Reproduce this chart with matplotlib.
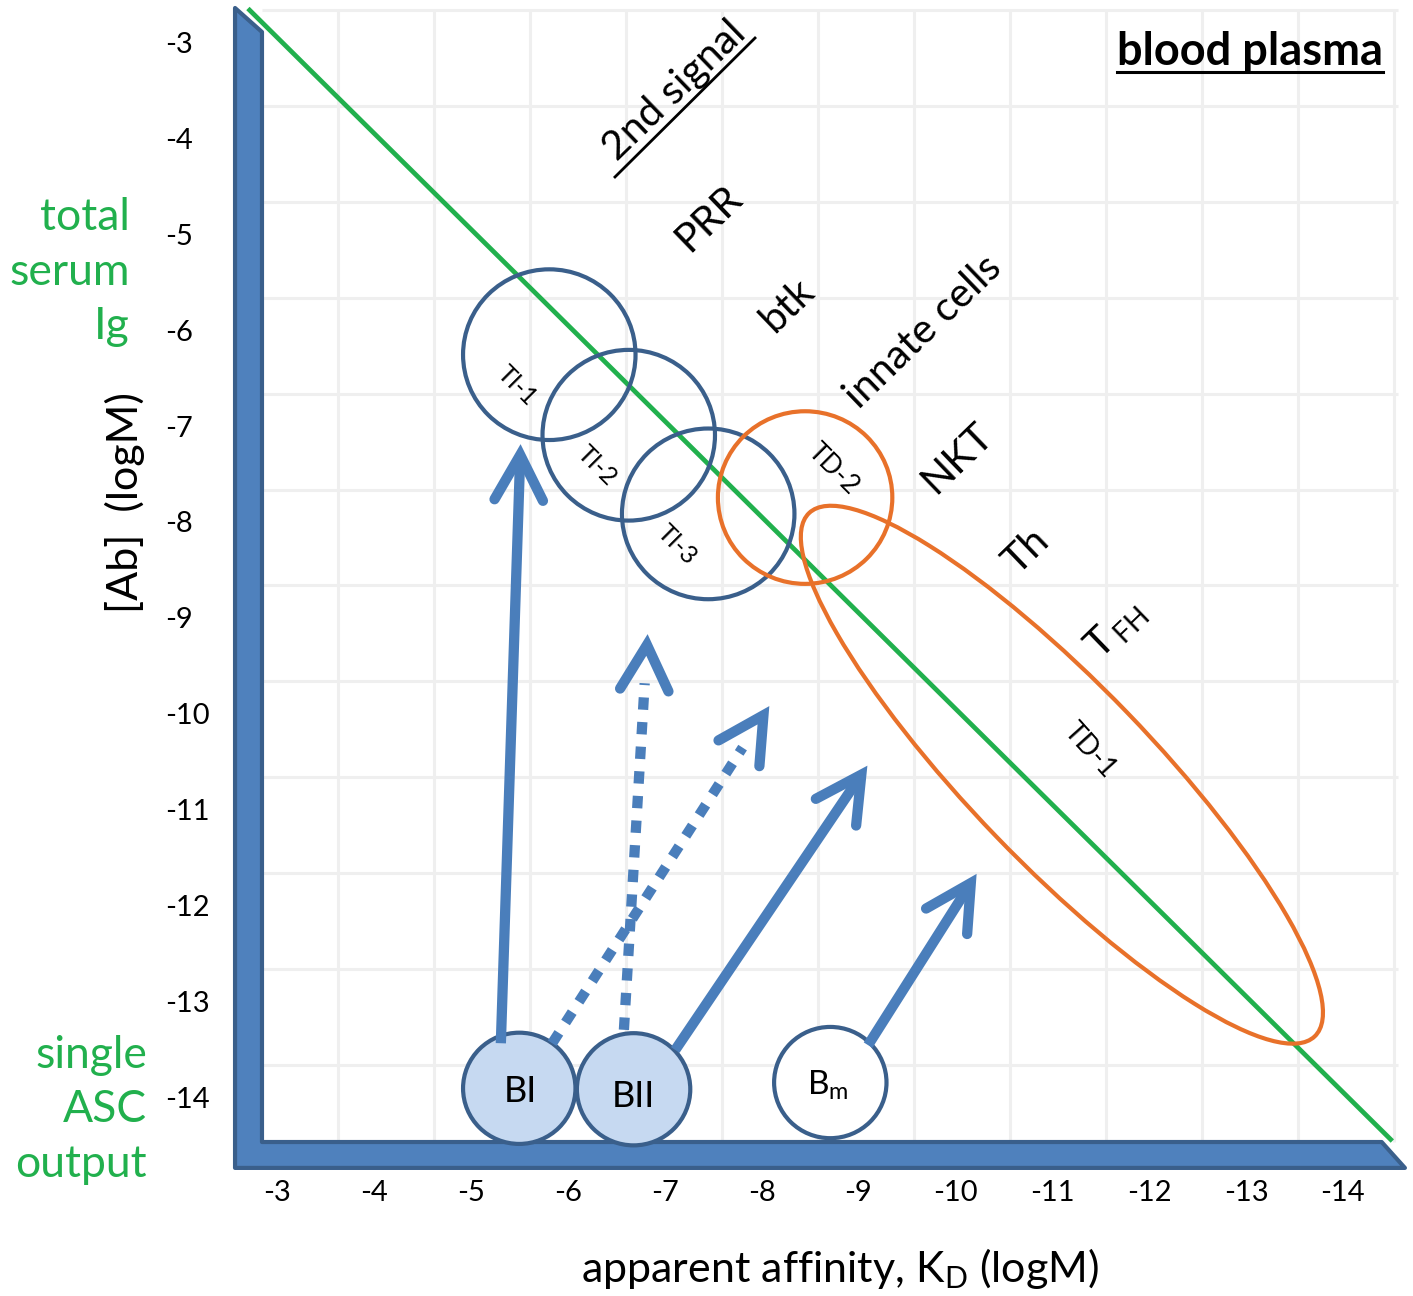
import numpy as np
import matplotlib
matplotlib.use("Agg")
import matplotlib.pyplot as plt
from matplotlib.patches import Circle, Ellipse, Polygon

plt.rcParams['font.family'] = ['Lato', 'DejaVu Sans']
plt.rcParams['mathtext.fontset'] = 'custom'
plt.rcParams['mathtext.rm'] = 'Lato'
plt.rcParams['mathtext.it'] = 'Lato:italic'
plt.rcParams['mathtext.bf'] = 'Lato:bold'

# colours
BLUE = '#4a7ebb'
DARK = '#3a5f8b'
LIGHT = '#c6d9f1'
GREEN = '#21b04d'
ORANGE = '#e8712a'
GRID = '#efefef'

# tick values (logM) on both axes
kd_ticks = [-3, -4, -5, -6, -7, -8, -9, -10, -11, -12, -13, -14]
ab_ticks = [-3, -4, -5, -6, -7, -8, -9, -10, -11, -12, -13, -14]

# light grid behind everything
grid_x = np.linspace(-3.63, -14.53, 12)
grid_y = np.linspace(-2.656, -13.656, 12)

# thick L shaped frame (outline)
frame_x = [-2.567, -2.845, -2.845, -14.40, -14.64, -2.567]
frame_y = [-2.635, -2.885, -14.46, -14.46, -14.73, -14.73]

# total serum Ig / single ASC diagonal
diag_x = [-2.70, -14.51]
diag_y = [-2.64, -14.45]

# antigen class rings
ring_names = ['TI-1', 'TI-2', 'TI-3', 'TD-2']
ring_x = [-5.81, -6.63, -7.45, -8.45]
ring_y = [-6.25, -7.09, -7.91, -7.74]
ring_r = [0.89, 0.89, 0.89, 0.90]
ring_cols = [DARK, DARK, DARK, ORANGE]
ring_lx = [-5.477, -6.302, -7.128, -8.738]
ring_ly = [-6.577, -7.411, -8.235, -7.442]

# TD-1 long ellipse
td1_x, td1_y = -11.10, -10.63
td1_w, td1_h, td1_ang = 7.55, 1.87, 46.3
td1_lx, td1_ly = -11.39, -10.372

# B cell populations
cell_names = ['BI', 'BII', r'B$_{\mathrm{m}}$']
cell_x = [-5.50, -6.68, -8.71]
cell_y = [-13.90, -13.91, -13.84]
cell_r = [0.58, 0.585, 0.58]
cell_fill = [LIGHT, LIGHT, 'white']
cell_lx = [-5.508, -6.674, -8.686]
cell_ly = [-13.93, -13.99, -13.866]
cell_fs = [26, 26, 24]

# arrows from B cells
arrow_x0 = [-5.31, -6.58, -5.84, -7.11, -9.10]
arrow_y0 = [-13.43, -13.29, -13.43, -13.50, -13.45]
arrow_x1 = [-5.51, -6.818, -8.02, -9.03, -10.16]
arrow_y1 = [-7.296, -9.277, -10.01, -10.63, -11.76]
arrow_dotted = [False, True, True, False, False]

# diagonal signal labels (rotated up)
sig_text = ['PRR', 'btk', 'innate cells', 'NKT', 'Th', r'T$_{\,\mathrm{FH}}$']
sig_x = [-7.458, -8.263, -9.667, -10.018, -10.73, -11.658]
sig_y = [-4.825, -5.732, -6.014, -7.327, -8.297, -9.121]

second_x, second_y = -7.107, -3.50
second_ul_x = [-6.488, -7.933]
second_ul_y = [-4.397, -2.948]

fig = plt.figure(figsize=(14.13, 12.96), dpi=100)
ax = fig.add_axes([0, 0, 1, 1])
ax.set_xlim(-0.1414, -14.7234)
ax.set_ylim(-16.0657, -2.5516)
ax.axis('off')

# grid
ax.vlines(grid_x, -14.46, -2.656, color=GRID, lw=2.2, zorder=0)
ax.hlines(grid_y, -2.845, -14.57, color=GRID, lw=2.2, zorder=0)

# frame
ax.add_patch(Polygon(list(zip(frame_x, frame_y)), closed=True, fc='#4f81bd',
                     ec=DARK, lw=3, joinstyle='round', zorder=2))

# diagonal
ax.plot(diag_x, diag_y, color=GREEN, lw=3.4, solid_capstyle='butt', zorder=3)

# rings
for x, y, r, c in zip(ring_x, ring_y, ring_r, ring_cols):
    ax.add_patch(Circle((x, y), r, fill=False, ec=c, lw=3, zorder=4))
for name, x, y in zip(ring_names, ring_lx, ring_ly):
    fs = 19 if name.startswith('TD') else 18
    ax.text(x, y, name, rotation=-45, ha='center', va='center', fontsize=fs, zorder=6)

ax.add_patch(Ellipse((td1_x, td1_y), td1_w, td1_h, angle=td1_ang, fill=False,
                     ec=ORANGE, lw=3, zorder=4))
ax.text(td1_lx, td1_ly, 'TD-1', rotation=-48, ha='center', va='center', fontsize=20, zorder=6)

# B cells
for x, y, r, f in zip(cell_x, cell_y, cell_r, cell_fill):
    ax.add_patch(Circle((x, y), r, fc=f, ec=DARK, lw=3, zorder=5))

# arrows
head_len, head_w = 0.47, 0.25
for x0, y0, x1, y1, dot in zip(arrow_x0, arrow_y0, arrow_x1, arrow_y1, arrow_dotted):
    d = np.array([x1 - x0, y1 - y0])
    d = d / np.hypot(*d)
    p = np.array([-d[1], d[0]])
    tip = np.array([x1, y1])
    if dot:
        end = tip - 0.40 * d
        ax.plot([x0, end[0]], [y0, end[1]], color=BLUE, lw=7.4,
                dashes=(1.2, 1.2), dash_capstyle='butt', zorder=7)
    else:
        ax.plot([x0, x1], [y0, y1], color=BLUE, lw=7.4, solid_capstyle='butt', zorder=7)
    w1 = tip - head_len * d + head_w * p
    w2 = tip - head_len * d - head_w * p
    ax.plot([w1[0], tip[0], w2[0]], [w1[1], tip[1], w2[1]], color=BLUE, lw=7.4,
            solid_capstyle='round', solid_joinstyle='miter', zorder=7)

for name, x, y, fs in zip(cell_names, cell_lx, cell_ly, cell_fs):
    ax.text(x, y, name, ha='center', va='center', fontsize=fs, zorder=8)

# rotated labels
for t, x, y in zip(sig_text, sig_x, sig_y):
    ax.text(x, y, t, rotation=44, ha='center', va='center', fontsize=29.5, zorder=6)
ax.text(second_x, second_y, '2nd signal', rotation=44, ha='center', va='center',
        fontsize=29.5, zorder=6)
ax.plot(second_ul_x, second_ul_y, color='black', lw=2, zorder=6)

# title
ax.text(-14.414, -3.229, 'blood plasma', ha='right', va='baseline',
        fontsize=32.5, fontweight='bold')
ax.plot([-11.669, -14.414], [-3.302, -3.302], color='black', lw=2.2)

# ticks
for v in kd_ticks:
    ax.text(v, -14.992, str(v), ha='center', va='center', fontsize=21)
for v in ab_ticks:
    ax.text(-1.844, v - 0.02, str(v), ha='left', va='center', fontsize=21)

# axis titles
ax.text(-8.81, -15.774, r'apparent affinity, K$_{\mathrm{D}}$ (logM)',
        ha='center', va='center', fontsize=31)
ax.text(-1.431, -7.797, '[Ab]  (logM)', rotation=90, ha='center', va='center', fontsize=31)

ax.text(-1.483, -5.388, 'total\nserum\nIg', ha='right', va='center', ma='right',
        fontsize=32, color=GREEN, linespacing=1.42)
ax.text(-1.658, -14.126, 'single\nASC\noutput', ha='right', va='center', ma='right',
        fontsize=32, color=GREEN, linespacing=1.42)

fig.savefig('out.png', dpi=100)
